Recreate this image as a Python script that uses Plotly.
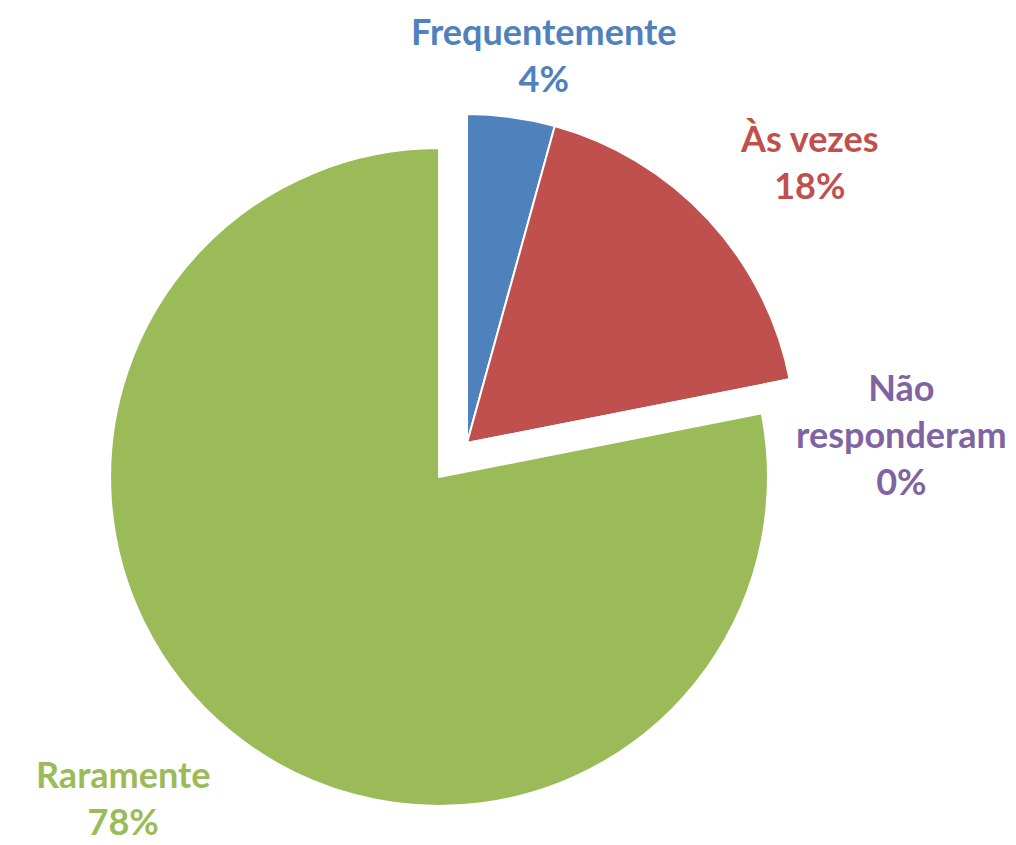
import plotly.graph_objects as go

# respostas (percentual)
categorias = ["Frequentemente", "Às vezes", "Não responderam", "Raramente"]
valores = [4.3, 17.6, 0.0, 78.1]
rotulos = ["Frequentemente", "Às vezes", "Não<br>responderam", "Raramente"]
cores = ["#4F81BD", "#C0504D", "#8064A2", "#9BBB59"]
destaque = [0, 0, 0, 0.134]

# posição dos rótulos (pixels no quadro 1016x845)
W, H = 1016, 845
pos_rotulos = [(535, 47), (801, 153), (893, 426), (115, 789)]

fig = go.Figure(go.Pie(
    labels=categorias, values=valores, sort=False, direction="clockwise",
    rotation=0, pull=destaque, textinfo="none", hoverinfo="label+percent",
    marker=dict(colors=cores, line=dict(color="white", width=2)),
    domain=dict(x=[86 / W, 832 / W], y=[1 - 808 / H, 1 - 62 / H]),
    showlegend=False,
))

for rot, v, cor, (px_, py_) in zip(rotulos, valores, cores, pos_rotulos):
    fig.add_annotation(
        x=px_ / W, y=1 - py_ / H, xref="paper", yref="paper",
        text=f"{rot}<br>{round(v)}%", showarrow=False,
        font=dict(family="Lato", size=36, color=cor, weight="bold"),
        xanchor="center", yanchor="middle", align="center",
    )

fig.update_layout(
    width=W, height=H, margin=dict(l=0, r=0, t=0, b=0),
    paper_bgcolor="white", plot_bgcolor="white",
)
fig.write_html("out.html")
